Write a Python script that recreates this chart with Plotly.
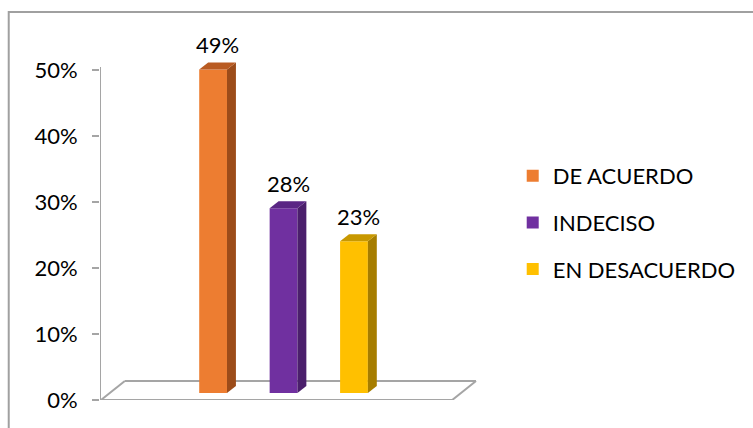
import plotly.graph_objects as go

# Survey answers and their shares
categories = ["DE ACUERDO", "INDECISO", "EN DESACUERDO"]
shares = [0.49, 0.28, 0.23]
labels = ["49%", "28%", "23%"]
front_colors = ["#ED7D31", "#7030A0", "#FFC000"]
side_colors = ["#9C4C1A", "#4B1F6C", "#A67D00"]
top_colors = ["#B95B22", "#5A2684", "#C89800"]
tick_values = [0, 0.1, 0.2, 0.3, 0.4, 0.5]
tick_labels = ["0%", "10%", "20%", "30%", "40%", "50%"]

W, H = 753, 428
FONT = "Lato"
GRAY = "#A5A5A5"

# plot area in pixels (top left open so labels above bars are not clipped)
PL, PR, PT, PB = 100, 480, 20, 400
AXIS_TOP = 67            # pixel where the value axis line ends
PX_PER_X = 71.0          # pixels per category step
PX_PER_Y = 660.0         # pixels per 100 %
FIRST_CENTER = 214.0     # pixel of first bar centre

x_range = [-(FIRST_CENTER - PL) / PX_PER_X, (PR - FIRST_CENTER) / PX_PER_X]
y_range = [0, (PB - PT) / PX_PER_Y]
axis_top_value = (PB - AXIS_TOP) / PX_PER_Y

# the bars stand half-way into the depth of the floor
BASE_LIFT = 7 / PX_PER_Y
y2_range = [y_range[0] - BASE_LIFT, y_range[1] - BASE_LIFT]

BAR_W = 28 / PX_PER_X
DX = 9 / PX_PER_X        # depth offset of side/top faces
DY = 7 / PX_PER_Y


def px_x(p):
    return x_range[0] + (p - PL) / PX_PER_X


fig = go.Figure()

# front faces (also drive the legend)
for i, (name, v, c) in enumerate(zip(categories, shares, front_colors)):
    fig.add_trace(go.Bar(
        x=[i], y=[v], width=BAR_W, name=name, marker=dict(color=c, line=dict(width=0)),
        yaxis="y2", legendgroup=name, hoverinfo="skip",
    ))

# right side faces and top faces
for i, (v, sc, tc) in enumerate(zip(shares, side_colors, top_colors)):
    xl, xr = i - BAR_W / 2, i + BAR_W / 2
    fig.add_trace(go.Scatter(
        x=[xr, xr + DX, xr + DX, xr, xr], y=[0, DY, v + DY, v, 0],
        fill="toself", fillcolor=sc, mode="lines", line=dict(width=0),
        yaxis="y2", showlegend=False, hoverinfo="skip",
    ))
    fig.add_trace(go.Scatter(
        x=[xl, xl + DX, xr + DX, xr, xl], y=[v, v + DY, v + DY, v, v],
        fill="toself", fillcolor=tc, mode="lines", line=dict(width=0),
        yaxis="y2", showlegend=False, hoverinfo="skip",
    ))

# value labels above the bars
for i, (v, t) in enumerate(zip(shares, labels)):
    fig.add_annotation(
        x=i + DX / 2, y=v + DY, xref="x", yref="y2", text=t, showarrow=False,
        yanchor="middle", yshift=18, font=dict(family=FONT, size=22, color="black"),
    )

# value axis line, floor of the 3-D plot area and chart frame
floor_depth = 19 / PX_PER_Y
line_style = dict(color=GRAY, width=2)
shapes = [
    dict(type="line", xref="x", yref="y", x0=x_range[0], y0=0, x1=x_range[0], y1=axis_top_value,
         line=line_style, layer="below"),
    dict(type="line", xref="x", yref="y", x0=px_x(101), y0=0, x1=px_x(455), y1=0,
         line=line_style, layer="below"),
    dict(type="line", xref="x", yref="y", x0=px_x(125), y0=floor_depth, x1=px_x(479), y1=floor_depth,
         line=line_style, layer="below"),
    dict(type="line", xref="x", yref="y", x0=px_x(101), y0=0, x1=px_x(125), y1=floor_depth,
         line=line_style, layer="below"),
    dict(type="line", xref="x", yref="y", x0=px_x(455), y0=0, x1=px_x(479), y1=floor_depth,
         line=line_style, layer="below"),
    dict(type="rect", xref="paper", yref="paper", x0=(8 - PL) / (PR - PL),
         y0=-0.5, x1=3.0, y1=1 + (PT - 12) / (PB - PT),
         line=dict(color="#A0A0A0", width=2), layer="below"),
]

fig.update_layout(
    width=W, height=H,
    margin=dict(l=PL, r=W - PR, t=PT, b=H - PB, pad=0),
    paper_bgcolor="white", plot_bgcolor="white",
    font=dict(family=FONT, size=22, color="black"),
    barmode="overlay",
    showlegend=True,
    legend=dict(
        x=(516 - PL) / (PR - PL), xanchor="left",
        y=1 + (PT - 155) / (PB - PT), yanchor="top",
        traceorder="grouped", tracegroupgap=15,
        font=dict(family=FONT, size=22, color="black"),
        bgcolor="rgba(0,0,0,0)", borderwidth=0,
    ),
    xaxis=dict(range=x_range, visible=False, fixedrange=True),
    yaxis=dict(
        range=y_range, tickvals=tick_values, ticktext=tick_labels,
        showline=False, showgrid=False, zeroline=False,
        ticks="outside", ticklen=7, tickcolor=GRAY, tickwidth=2,
        ticklabelstandoff=10, tickfont=dict(family=FONT, size=22, color="black"),
    ),
    yaxis2=dict(range=y2_range, overlaying="y", visible=False),
    shapes=shapes,
)

fig.write_html("out.html")
